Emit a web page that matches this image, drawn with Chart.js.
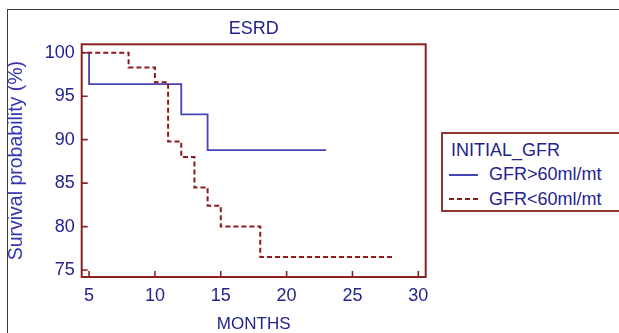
<!DOCTYPE html>
<html>
<head>
<meta charset="utf-8">
<script src="https://cdn.jsdelivr.net/npm/chart.js@4/dist/chart.umd.min.js"></script>
<style>
  html, body { margin: 0; padding: 0; background: #fff; overflow: hidden; }
  #wrap { position: relative; width: 619px; height: 333px; overflow: hidden; }
  #frame { position: absolute; left: 7px; top: 9px; width: 700px; height: 400px;
           border-left: 1px solid #3a3a3a; border-top: 1px solid #3a3a3a; }
  canvas { position: absolute; left: 0; top: 0; }
  #legend { position: absolute; left: 441px; top: 132px; width: 200px; height: 80px;
            box-sizing: border-box; border: 2px solid #8f3535; background: #fff;
            font-family: "Liberation Sans", Arial, sans-serif; font-size: 18px; color: #23238e;
            padding: 4px 0 0 8px; }
  #legend .row { height: 24.3px; line-height: 24.3px; white-space: nowrap; position: relative; }
  #legend .sample { display: inline-block; width: 29px; height: 2px; vertical-align: middle;
                    margin-left: -2px; margin-right: 11px; position: relative; top: -1px; }
</style>
</head>
<body>
<div id="wrap">
  <div id="frame"></div>
  <canvas id="c" width="619" height="333"></canvas>
  <div id="legend"></div>
</div>
<script>
// ---- data ----
const chartTitle = "ESRD";
const xTitle = "MONTHS";
const yTitle = "Survival probability (%)";
const legendTitle = "INITIAL_GFR";
const seriesNames = ["GFR>60ml/mt", "GFR<60ml/mt"];
const xTickValues = [5, 10, 15, 20, 25, 30];
const yTickValues = [75, 80, 85, 90, 95, 100];
// GFR>60ml/mt : step function (value holds until next time)
const highTimes = [5, 5, 12, 14, 23];
const highSurv  = [100, 96.4, 92.9, 88.8, 88.8];
// GFR<60ml/mt
const lowTimes = [0, 8, 10, 11, 12, 13, 14, 15, 18, 28];
const lowSurv  = [100, 98.3, 96.6, 89.8, 88.0, 84.5, 82.4, 80.0, 76.5, 76.5];

const colors = ["#4545b5", "#8b1a1a"];
const dashes = [[], [5, 3]];
const TEXT = "#23238e";
const BOX = "#8b2222";
const FONT = '"Liberation Sans", Arial, sans-serif';

function pts(t, v) { return t.map((x, i) => ({ x: x, y: v[i] })); }

const framePlugin = {
  id: 'framePlugin',
  afterDraw(chart) {
    const { ctx, chartArea: a, scales: { x, y } } = chart;
    ctx.save();
    ctx.strokeStyle = BOX;
    ctx.lineWidth = 2;
    ctx.strokeRect(a.left, a.top, a.right - a.left, a.bottom - a.top);
    ctx.lineWidth = 1.6;
    ctx.beginPath();
    xTickValues.forEach(v => {
      const px = x.getPixelForValue(v);
      ctx.moveTo(px, a.bottom); ctx.lineTo(px, a.bottom - 6);
    });
    yTickValues.forEach(v => {
      const py = y.getPixelForValue(v);
      ctx.moveTo(a.left, py); ctx.lineTo(a.left + 6, py);
    });
    ctx.stroke();
    ctx.restore();
  }
};

new Chart(document.getElementById('c'), {
  type: 'line',
  data: {
    datasets: [
      { label: seriesNames[0], data: pts(highTimes, highSurv), borderColor: colors[0],
        borderWidth: 1.8, borderDash: dashes[0], stepped: 'before', pointRadius: 0, fill: false, order: 1 },
      { label: seriesNames[1], data: pts(lowTimes, lowSurv), borderColor: colors[1],
        borderWidth: 2, borderDash: dashes[1], stepped: 'before', pointRadius: 0, fill: false, order: 0 }
    ]
  },
  options: {
    responsive: false,
    animation: false,
    events: [],
    layout: { padding: { left: 0, top: 0, right: 193.3, bottom: 0 } },
    plugins: {
      legend: { display: false },
      tooltip: { enabled: false },
      title: {
        display: true, text: chartTitle, fullSize: false, color: TEXT,
        font: { family: FONT, size: 18, weight: 'normal', lineHeight: 1 },
        padding: { top: 20.3, bottom: 6 }
      }
    },
    scales: {
      x: {
        type: 'linear', min: 4.44, max: 30.56,
        afterBuildTicks(s) { s.ticks = xTickValues.map(v => ({ value: v })); },
        afterFit(s) { s.height = 56; },
        grid: { display: false, drawTicks: false },
        border: { display: false },
        ticks: { color: TEXT, padding: 8, maxRotation: 0, autoSkip: false,
                 font: { family: FONT, size: 18, lineHeight: 1.2 } },
        title: { display: true, text: xTitle, color: TEXT,
                 font: { family: FONT, size: 17, lineHeight: 1 }, padding: { top: 0, bottom: 0.5 } }
      },
      y: {
        type: 'linear', min: 74.2, max: 100.97,
        afterBuildTicks(s) { s.ticks = yTickValues.map(v => ({ value: v })); },
        afterFit(s) { s.width = 81.7; },
        grid: { display: false, drawTicks: false },
        border: { display: false },
        ticks: { color: TEXT, padding: 7, autoSkip: false,
                 font: { family: FONT, size: 18, lineHeight: 1.2 } },
        title: { display: true, text: yTitle, color: "#3535b0",
                 font: { family: FONT, size: 19.5, lineHeight: 1 }, padding: { top: 6.5, bottom: 0 } }
      }
    }
  },
  plugins: [framePlugin]
});

// HTML legend built from the series names
const leg = document.getElementById('legend');
const t = document.createElement('div');
t.className = 'row';
t.textContent = legendTitle;
leg.appendChild(t);
seriesNames.forEach((name, i) => {
  const r = document.createElement('div');
  r.className = 'row';
  const s = document.createElement('span');
  s.className = 'sample';
  if (dashes[i].length) {
    s.style.background = `repeating-linear-gradient(to right, ${colors[i]} 0 ${dashes[i][0]}px, transparent ${dashes[i][0]}px ${dashes[i][0] + dashes[i][1]}px)`;
  } else {
    s.style.background = colors[i];
  }
  r.appendChild(s);
  r.appendChild(document.createTextNode(name));
  leg.appendChild(r);
});
</script>
</body>
</html>
